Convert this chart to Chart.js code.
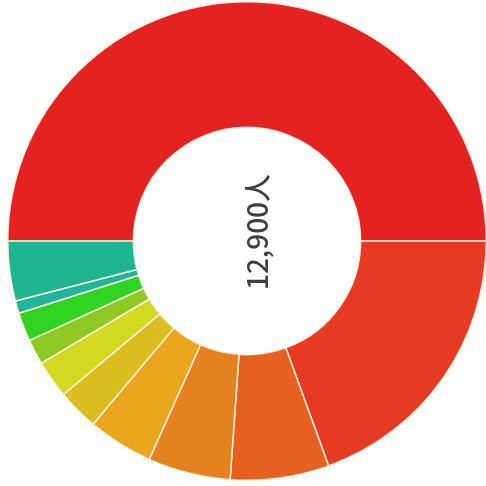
<!DOCTYPE html>
<html>
<head>
<meta charset="utf-8">
<script src="https://cdn.jsdelivr.net/npm/chart.js@4"></script>
<style>
  html, body { margin: 0; padding: 0; background: #fff; }
  #wrap { position: absolute; left: 7px; top: 1px; width: 480px; height: 480px; }
</style>
</head>
<body>
<div id="wrap"><canvas id="donut"></canvas></div>
<script>
// slice labels / values (people)
const labels = ["A", "B", "C", "D", "E", "F", "G", "H", "I", "J", "K"];
const values = [6450, 2510, 860, 720, 570, 360, 330, 220, 250, 110, 520];
const colors = [
  "#e52222", "#e63b22", "#e6601f", "#e3821e", "#e9a51b", "#dcbd1f",
  "#d3d821", "#8ec823", "#2fd421", "#1fb59a", "#1fb58e"
];
const centerText = "12,900人";

const centerLabel = {
  id: "centerLabel",
  afterDraw(chart) {
    const { ctx } = chart;
    const meta = chart.getDatasetMeta(0).data[0];
    if (!meta) return;
    ctx.save();
    ctx.translate(meta.x + 10, meta.y - 9);
    ctx.rotate(-Math.PI / 2);
    ctx.font = "500 28px 'Noto Sans CJK JP', 'Noto Sans', sans-serif";
    ctx.fillStyle = "#404040";
    ctx.textAlign = "center";
    ctx.textBaseline = "middle";
    ctx.fillText(centerText, 0, 0);
    ctx.restore();
  }
};

new Chart(document.getElementById("donut"), {
  type: "doughnut",
  data: {
    labels,
    datasets: [{
      data: values,
      backgroundColor: colors,
      borderColor: "#fbeede",
      borderWidth: 1.5
    }]
  },
  options: {
    responsive: true,
    maintainAspectRatio: false,
    animation: false,
    rotation: -90,
    cutout: "47.5%",
    layout: { padding: 0 },
    plugins: { legend: { display: false }, tooltip: { enabled: false } }
  },
  plugins: [centerLabel]
});
</script>
</body>
</html>
